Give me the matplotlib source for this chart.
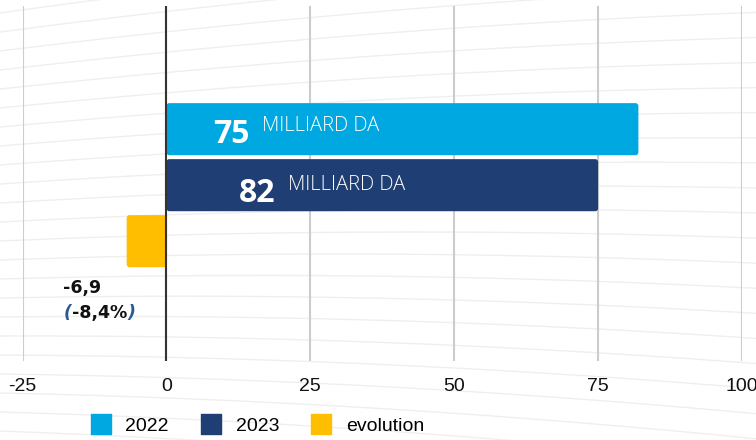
import numpy as np
import matplotlib
matplotlib.use("Agg")
import matplotlib.pyplot as plt
from matplotlib.patches import FancyBboxPatch
from matplotlib.lines import Line2D
from matplotlib.markers import MarkerStyle

# données
series = ["2022", "2023", "evolution"]
valeurs = [82, 75, -6.9]
etiquettes_nombre = ["75", "82"]
etiquette_unite = "MILLIARD DA"
evolution_txt = "-6,9"
evolution_pct = "-8,4%"
xticks = [-25, 0, 25, 50, 75, 100]

couleurs = ["#00a8e1", "#1f3e73", "#ffbe00"]

plt.rcParams['font.family'] = ['Liberation Sans', 'DejaVu Sans']

fig = plt.figure(figsize=(7.56, 4.40), dpi=100)

# fond décoratif (lignes ondulées très claires)
bg = fig.add_axes([0, 0, 1, 1], zorder=-1)
bg.set_xlim(0, 756)
bg.set_ylim(440, 0)
bg.axis('off')
xs = np.linspace(0, 756, 200)
for y0 in np.arange(-120, 600, 19):
    t = xs / 756
    ys = y0 + (y0 - 250) * 0.32 * t - 30 * t * (1 - t)
    bg.plot(xs, ys, color='#efefef', lw=1.0)

ax = fig.add_axes([22.5 / 756, 1 - 361 / 440, 719.5 / 756, 355 / 440])
ax.set_facecolor('none')

ypos = np.arange(len(series))
bars = ax.barh(ypos, valeurs, height=0.93, color=couleurs, zorder=3)
for b in bars:
    x0 = min(b.get_x(), b.get_x() + b.get_width())
    w = abs(b.get_width())
    b.set_visible(False)
    ax.add_patch(FancyBboxPatch((x0, b.get_y()), w, b.get_height(),
                                boxstyle="round,pad=0,rounding_size=0.5",
                                mutation_aspect=0.103,
                                fc=b.get_facecolor(), ec='none', zorder=3))

ax.set_xlim(-25, 100)
ax.set_ylim(4.14, -2.2)
ax.set_xticks(xticks)
ax.set_xticklabels([str(v) for v in xticks])
ax.set_yticks([])
ax.grid(axis='x', color='#cccccc', lw=1.5, zorder=1)
ax.axvline(0, color='#333333', lw=1.5, zorder=4)
for s in ax.spines.values():
    s.set_visible(False)
ax.tick_params(axis='x', length=0, pad=12, labelsize=14, labelcolor='#111111')

# étiquettes des barres
pos_nombre = [(8.1, 0.25), (12.6, 1.30)]
pos_unite = [(16.6, 0.04), (21.2, 1.09)]
for i in range(2):
    ax.text(pos_nombre[i][0], pos_nombre[i][1], etiquettes_nombre[i], color='white',
            fontsize=23, fontweight='bold', family=['Open Sans', 'DejaVu Sans'],
            ha='left', va='baseline', zorder=5)
    ax.text(pos_unite[i][0], pos_unite[i][1], etiquette_unite, color='white',
            fontsize=14.5, fontweight='light', family=['Open Sans', 'DejaVu Sans'],
            ha='left', va='baseline', zorder=5)

# étiquette de l'évolution
ax.text(-18.0, 2.93, evolution_txt, fontsize=12.5, fontweight='bold',
        family=['DejaVu Sans'], color='#111111', ha='left', va='baseline', zorder=5)
t1 = ax.text(-17.8, 3.375, "(", fontsize=12.5, fontweight='bold', style='italic',
             family=['DejaVu Sans'], color='#2b5a92', ha='left', va='baseline', zorder=5)
t2 = ax.annotate(evolution_pct, xy=(1, 0), xycoords=t1, fontsize=12.5, fontweight='bold',
                 family=['DejaVu Sans'], color='#111111', ha='left', va='bottom', zorder=5)
ax.annotate(")", xy=(1, 0), xycoords=t2, fontsize=12.5, fontweight='bold', style='italic',
            family=['DejaVu Sans'], color='#2b5a92', ha='left', va='bottom', zorder=5)

# légende
handles = [Line2D([], [], ls='none', marker=MarkerStyle('s', joinstyle='round'),
                  markersize=14, mfc=c, mec=c, mew=1.0) for c in couleurs]
fig.legend(handles, series, loc='center left', bbox_to_anchor=(90 / 756, 1 - 426 / 440),
           ncol=3, frameon=False, fontsize=14, handlelength=1.1, handletextpad=0.72,
           columnspacing=1.62, borderpad=0, borderaxespad=0)

fig.savefig("out.png", dpi=100)
